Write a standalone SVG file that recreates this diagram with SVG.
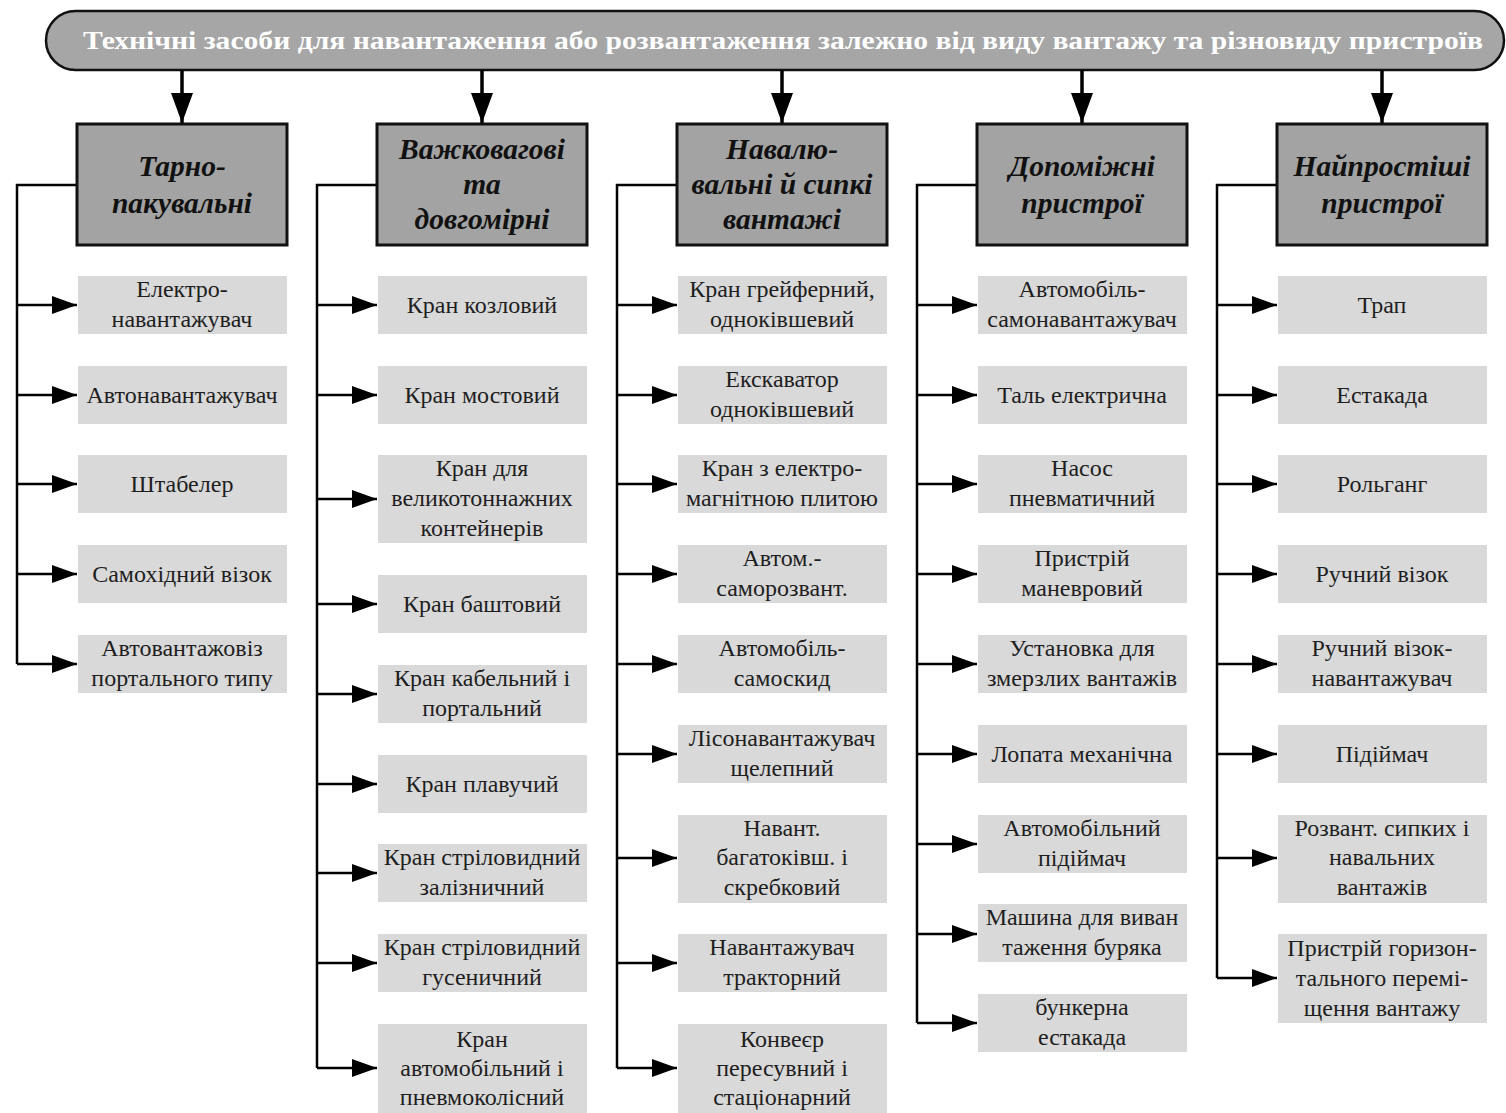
<svg xmlns="http://www.w3.org/2000/svg" width="1506" height="1113" viewBox="0 0 1506 1113">
<style>
.banner{fill:#a6a6a6;stroke:#111;stroke-width:2.5}
.btxt{font-family:"Liberation Serif",serif;font-weight:bold;font-size:26px;fill:#fff}
.hdr{fill:#a3a3a3;stroke:#111;stroke-width:3}
.htxt{font-family:"Liberation Serif",serif;font-weight:bold;font-style:italic;font-size:29.5px;fill:#111;text-anchor:middle}
.leaf{fill:#d9d9d9}
.ltxt{font-family:"Liberation Serif",serif;font-size:24px;fill:#1e1e1e;text-anchor:middle}
.ln{fill:none;stroke:#000;stroke-width:2.5}
.dn{fill:none;stroke:#000;stroke-width:3.5}
</style>
<defs>
<marker id="ah" viewBox="0 0 25 18" refX="25" refY="9" markerWidth="25" markerHeight="18" markerUnits="userSpaceOnUse" orient="auto"><path d="M0,0 L25,9 L0,18 Z" fill="#000"/></marker>
<marker id="ahd" viewBox="0 0 30 22" refX="30" refY="11" markerWidth="30" markerHeight="22" markerUnits="userSpaceOnUse" orient="auto"><path d="M0,0 L30,11 L0,22 Z" fill="#000"/></marker>
</defs>

<g id="banner">
<rect class="banner" x="46" y="11" width="1458" height="59" rx="29.5"/>
<text class="btxt" x="783" y="49" text-anchor="middle" textLength="1400" lengthAdjust="spacingAndGlyphs">Технічні засоби для навантаження або розвантаження залежно від виду вантажу та різновиду пристроїв</text>
</g>

<g id="connectors">
<line class="dn" x1="182" y1="70" x2="182" y2="123" marker-end="url(#ahd)"/>
<line class="dn" x1="482" y1="70" x2="482" y2="123" marker-end="url(#ahd)"/>
<line class="dn" x1="782" y1="70" x2="782" y2="123" marker-end="url(#ahd)"/>
<line class="dn" x1="1082" y1="70" x2="1082" y2="123" marker-end="url(#ahd)"/>
<line class="dn" x1="1382" y1="70" x2="1382" y2="123" marker-end="url(#ahd)"/>

<polyline class="ln" points="77,185 17,185 17,664"/>
<polyline class="ln" points="377,185 317,185 317,1068"/>
<polyline class="ln" points="677,185 617,185 617,1068"/>
<polyline class="ln" points="977,185 917,185 917,1023"/>
<polyline class="ln" points="1277,185 1217,185 1217,978"/>

<line class="ln" x1="17" y1="305" x2="77" y2="305" marker-end="url(#ah)"/>
<line class="ln" x1="17" y1="395" x2="77" y2="395" marker-end="url(#ah)"/>
<line class="ln" x1="17" y1="484" x2="77" y2="484" marker-end="url(#ah)"/>
<line class="ln" x1="17" y1="574" x2="77" y2="574" marker-end="url(#ah)"/>
<line class="ln" x1="17" y1="664" x2="77" y2="664" marker-end="url(#ah)"/>

<line class="ln" x1="317" y1="305" x2="377" y2="305" marker-end="url(#ah)"/>
<line class="ln" x1="317" y1="395" x2="377" y2="395" marker-end="url(#ah)"/>
<line class="ln" x1="317" y1="499" x2="377" y2="499" marker-end="url(#ah)"/>
<line class="ln" x1="317" y1="604" x2="377" y2="604" marker-end="url(#ah)"/>
<line class="ln" x1="317" y1="694" x2="377" y2="694" marker-end="url(#ah)"/>
<line class="ln" x1="317" y1="784" x2="377" y2="784" marker-end="url(#ah)"/>
<line class="ln" x1="317" y1="873" x2="377" y2="873" marker-end="url(#ah)"/>
<line class="ln" x1="317" y1="963" x2="377" y2="963" marker-end="url(#ah)"/>
<line class="ln" x1="317" y1="1068" x2="377" y2="1068" marker-end="url(#ah)"/>

<line class="ln" x1="617" y1="305" x2="677" y2="305" marker-end="url(#ah)"/>
<line class="ln" x1="617" y1="395" x2="677" y2="395" marker-end="url(#ah)"/>
<line class="ln" x1="617" y1="484" x2="677" y2="484" marker-end="url(#ah)"/>
<line class="ln" x1="617" y1="574" x2="677" y2="574" marker-end="url(#ah)"/>
<line class="ln" x1="617" y1="664" x2="677" y2="664" marker-end="url(#ah)"/>
<line class="ln" x1="617" y1="754" x2="677" y2="754" marker-end="url(#ah)"/>
<line class="ln" x1="617" y1="858" x2="677" y2="858" marker-end="url(#ah)"/>
<line class="ln" x1="617" y1="963" x2="677" y2="963" marker-end="url(#ah)"/>
<line class="ln" x1="617" y1="1068" x2="677" y2="1068" marker-end="url(#ah)"/>

<line class="ln" x1="917" y1="305" x2="977" y2="305" marker-end="url(#ah)"/>
<line class="ln" x1="917" y1="395" x2="977" y2="395" marker-end="url(#ah)"/>
<line class="ln" x1="917" y1="484" x2="977" y2="484" marker-end="url(#ah)"/>
<line class="ln" x1="917" y1="574" x2="977" y2="574" marker-end="url(#ah)"/>
<line class="ln" x1="917" y1="664" x2="977" y2="664" marker-end="url(#ah)"/>
<line class="ln" x1="917" y1="754" x2="977" y2="754" marker-end="url(#ah)"/>
<line class="ln" x1="917" y1="844" x2="977" y2="844" marker-end="url(#ah)"/>
<line class="ln" x1="917" y1="934" x2="977" y2="934" marker-end="url(#ah)"/>
<line class="ln" x1="917" y1="1023" x2="977" y2="1023" marker-end="url(#ah)"/>

<line class="ln" x1="1217" y1="305" x2="1277" y2="305" marker-end="url(#ah)"/>
<line class="ln" x1="1217" y1="395" x2="1277" y2="395" marker-end="url(#ah)"/>
<line class="ln" x1="1217" y1="484" x2="1277" y2="484" marker-end="url(#ah)"/>
<line class="ln" x1="1217" y1="574" x2="1277" y2="574" marker-end="url(#ah)"/>
<line class="ln" x1="1217" y1="664" x2="1277" y2="664" marker-end="url(#ah)"/>
<line class="ln" x1="1217" y1="754" x2="1277" y2="754" marker-end="url(#ah)"/>
<line class="ln" x1="1217" y1="858" x2="1277" y2="858" marker-end="url(#ah)"/>
<line class="ln" x1="1217" y1="978" x2="1277" y2="978" marker-end="url(#ah)"/>
</g>

<!-- headers -->
<g id="h1"><rect class="hdr" x="77" y="124" width="210" height="121"/><text class="htxt"><tspan x="182" y="176">Тарно-</tspan><tspan x="182" y="213">пакувальні</tspan></text></g>
<g id="h2"><rect class="hdr" x="377" y="124" width="210" height="121"/><text class="htxt"><tspan x="482" y="159">Важковагові</tspan><tspan x="482" y="194">та</tspan><tspan x="482" y="229">довгомірні</tspan></text></g>
<g id="h3"><rect class="hdr" x="677" y="124" width="210" height="121"/><text class="htxt"><tspan x="782" y="159">Навалю-</tspan><tspan x="782" y="194">вальні й сипкі</tspan><tspan x="782" y="229">вантажі</tspan></text></g>
<g id="h4"><rect class="hdr" x="977" y="124" width="210" height="121"/><text class="htxt"><tspan x="1082" y="176">Допоміжні</tspan><tspan x="1082" y="213">пристрої</tspan></text></g>
<g id="h5"><rect class="hdr" x="1277" y="124" width="210" height="121"/><text class="htxt"><tspan x="1382" y="176">Найпростіші</tspan><tspan x="1382" y="213">пристрої</tspan></text></g>

<!-- column 1 -->
<g id="c1n1"><rect class="leaf" x="78" y="276" width="209" height="58"/><text class="ltxt"><tspan x="182" y="297">Електро-</tspan><tspan x="182" y="327">навантажувач</tspan></text></g>
<g id="c1n2"><rect class="leaf" x="78" y="366" width="209" height="58"/><text class="ltxt" x="182" y="403">Автонавантажувач</text></g>
<g id="c1n3"><rect class="leaf" x="78" y="455" width="209" height="58"/><text class="ltxt" x="182" y="492">Штабелер</text></g>
<g id="c1n4"><rect class="leaf" x="78" y="545" width="209" height="58"/><text class="ltxt" x="182" y="582">Самохідний візок</text></g>
<g id="c1n5"><rect class="leaf" x="78" y="635" width="209" height="58"/><text class="ltxt"><tspan x="182" y="656">Автовантажовіз</tspan><tspan x="182" y="686">портального типу</tspan></text></g>

<!-- column 2 -->
<g id="c2n1"><rect class="leaf" x="378" y="276" width="209" height="58"/><text class="ltxt" x="482" y="313">Кран козловий</text></g>
<g id="c2n2"><rect class="leaf" x="378" y="366" width="209" height="58"/><text class="ltxt" x="482" y="403">Кран мостовий</text></g>
<g id="c2n3"><rect class="leaf" x="378" y="455" width="209" height="88"/><text class="ltxt"><tspan x="482" y="476">Кран для</tspan><tspan x="482" y="506">великотоннажних</tspan><tspan x="482" y="536">контейнерів</tspan></text></g>
<g id="c2n4"><rect class="leaf" x="378" y="575" width="209" height="58"/><text class="ltxt" x="482" y="612">Кран баштовий</text></g>
<g id="c2n5"><rect class="leaf" x="378" y="665" width="209" height="58"/><text class="ltxt"><tspan x="482" y="686">Кран кабельний і</tspan><tspan x="482" y="716">портальний</tspan></text></g>
<g id="c2n6"><rect class="leaf" x="378" y="755" width="209" height="58"/><text class="ltxt" x="482" y="792">Кран плавучий</text></g>
<g id="c2n7"><rect class="leaf" x="378" y="844" width="209" height="58"/><text class="ltxt"><tspan x="482" y="865">Кран стріловидний</tspan><tspan x="482" y="895">залізничний</tspan></text></g>
<g id="c2n8"><rect class="leaf" x="378" y="934" width="209" height="58"/><text class="ltxt"><tspan x="482" y="955">Кран стріловидний</tspan><tspan x="482" y="985">гусеничний</tspan></text></g>
<g id="c2n9"><rect class="leaf" x="378" y="1024" width="209" height="89"/><text class="ltxt"><tspan x="482" y="1047">Кран</tspan><tspan x="482" y="1076">автомобільний і</tspan><tspan x="482" y="1105">пневмоколісний</tspan></text></g>

<!-- column 3 -->
<g id="c3n1"><rect class="leaf" x="678" y="276" width="209" height="58"/><text class="ltxt"><tspan x="782" y="297">Кран грейферний,</tspan><tspan x="782" y="327">одноківшевий</tspan></text></g>
<g id="c3n2"><rect class="leaf" x="678" y="366" width="209" height="58"/><text class="ltxt"><tspan x="782" y="387">Екскаватор</tspan><tspan x="782" y="417">одноківшевий</tspan></text></g>
<g id="c3n3"><rect class="leaf" x="678" y="455" width="209" height="58"/><text class="ltxt"><tspan x="782" y="476">Кран з електро-</tspan><tspan x="782" y="506">магнітною плитою</tspan></text></g>
<g id="c3n4"><rect class="leaf" x="678" y="545" width="209" height="58"/><text class="ltxt"><tspan x="782" y="566">Автом.-</tspan><tspan x="782" y="596">саморозвант.</tspan></text></g>
<g id="c3n5"><rect class="leaf" x="678" y="635" width="209" height="58"/><text class="ltxt"><tspan x="782" y="656">Автомобіль-</tspan><tspan x="782" y="686">самоскид</tspan></text></g>
<g id="c3n6"><rect class="leaf" x="678" y="725" width="209" height="58"/><text class="ltxt"><tspan x="782" y="746">Лісонавантажувач</tspan><tspan x="782" y="776">щелепний</tspan></text></g>
<g id="c3n7"><rect class="leaf" x="678" y="815" width="209" height="88"/><text class="ltxt"><tspan x="782" y="836">Навант.</tspan><tspan x="782" y="865">багатоківш. і</tspan><tspan x="782" y="895">скребковий</tspan></text></g>
<g id="c3n8"><rect class="leaf" x="678" y="934" width="209" height="58"/><text class="ltxt"><tspan x="782" y="955">Навантажувач</tspan><tspan x="782" y="985">тракторний</tspan></text></g>
<g id="c3n9"><rect class="leaf" x="678" y="1024" width="209" height="89"/><text class="ltxt"><tspan x="782" y="1047">Конвеєр</tspan><tspan x="782" y="1076">пересувний і</tspan><tspan x="782" y="1105">стаціонарний</tspan></text></g>

<!-- column 4 -->
<g id="c4n1"><rect class="leaf" x="978" y="276" width="209" height="58"/><text class="ltxt"><tspan x="1082" y="297">Автомобіль-</tspan><tspan x="1082" y="327">самонавантажувач</tspan></text></g>
<g id="c4n2"><rect class="leaf" x="978" y="366" width="209" height="58"/><text class="ltxt" x="1082" y="403">Таль електрична</text></g>
<g id="c4n3"><rect class="leaf" x="978" y="455" width="209" height="58"/><text class="ltxt"><tspan x="1082" y="476">Насос</tspan><tspan x="1082" y="506">пневматичний</tspan></text></g>
<g id="c4n4"><rect class="leaf" x="978" y="545" width="209" height="58"/><text class="ltxt"><tspan x="1082" y="566">Пристрій</tspan><tspan x="1082" y="596">маневровий</tspan></text></g>
<g id="c4n5"><rect class="leaf" x="978" y="635" width="209" height="58"/><text class="ltxt"><tspan x="1082" y="656">Установка для</tspan><tspan x="1082" y="686">змерзлих вантажів</tspan></text></g>
<g id="c4n6"><rect class="leaf" x="978" y="725" width="209" height="58"/><text class="ltxt" x="1082" y="762">Лопата механічна</text></g>
<g id="c4n7"><rect class="leaf" x="978" y="815" width="209" height="58"/><text class="ltxt"><tspan x="1082" y="836">Автомобільний</tspan><tspan x="1082" y="866">підіймач</tspan></text></g>
<g id="c4n8"><rect class="leaf" x="978" y="904" width="209" height="58"/><text class="ltxt"><tspan x="1082" y="925">Машина для виван</tspan><tspan x="1082" y="955">таження буряка</tspan></text></g>
<g id="c4n9"><rect class="leaf" x="978" y="994" width="209" height="58"/><text class="ltxt"><tspan x="1082" y="1015">бункерна</tspan><tspan x="1082" y="1045">естакада</tspan></text></g>

<!-- column 5 -->
<g id="c5n1"><rect class="leaf" x="1278" y="276" width="209" height="58"/><text class="ltxt" x="1382" y="313">Трап</text></g>
<g id="c5n2"><rect class="leaf" x="1278" y="366" width="209" height="58"/><text class="ltxt" x="1382" y="403">Естакада</text></g>
<g id="c5n3"><rect class="leaf" x="1278" y="455" width="209" height="58"/><text class="ltxt" x="1382" y="492">Рольганг</text></g>
<g id="c5n4"><rect class="leaf" x="1278" y="545" width="209" height="58"/><text class="ltxt" x="1382" y="582">Ручний візок</text></g>
<g id="c5n5"><rect class="leaf" x="1278" y="635" width="209" height="58"/><text class="ltxt"><tspan x="1382" y="656">Ручний візок-</tspan><tspan x="1382" y="686">навантажувач</tspan></text></g>
<g id="c5n6"><rect class="leaf" x="1278" y="725" width="209" height="58"/><text class="ltxt" x="1382" y="762">Підіймач</text></g>
<g id="c5n7"><rect class="leaf" x="1278" y="815" width="209" height="88"/><text class="ltxt"><tspan x="1382" y="836">Розвант. сипких і</tspan><tspan x="1382" y="865">навальних</tspan><tspan x="1382" y="895">вантажів</tspan></text></g>
<g id="c5n8"><rect class="leaf" x="1278" y="934" width="209" height="89"/><text class="ltxt"><tspan x="1382" y="956">Пристрій горизон-</tspan><tspan x="1382" y="986">тального перемі-</tspan><tspan x="1382" y="1016">щення вантажу</tspan></text></g>
</svg>
